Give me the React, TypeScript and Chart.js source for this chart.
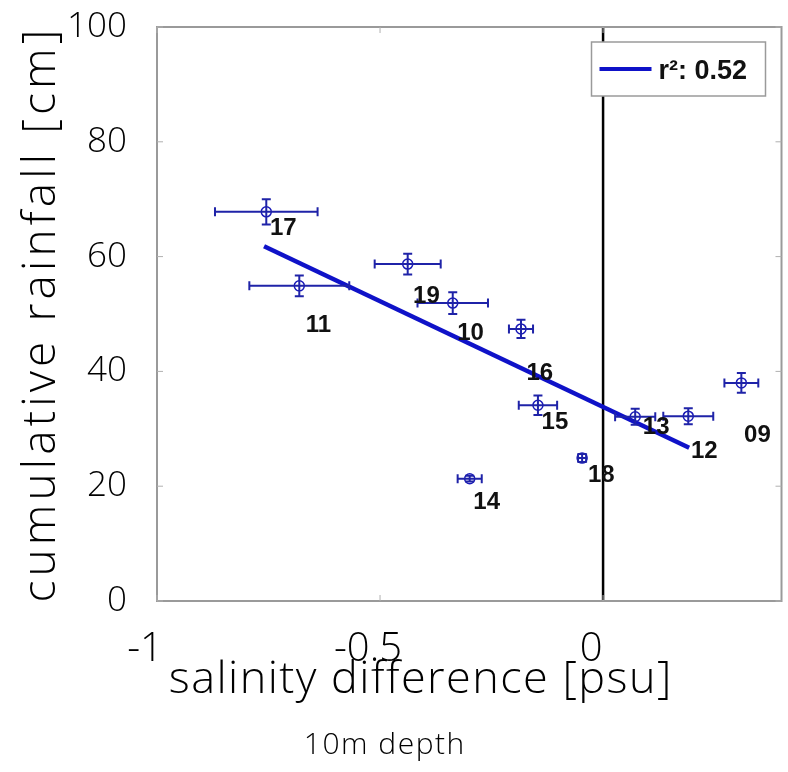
import React, { useEffect, useRef } from 'react';
import { Chart, registerables } from 'chart.js';

Chart.register(...registerables);

// ---------- data ----------
const stations = ['17', '11', '19', '10', '16', '15', '18', '14', '13', '12', '09'];
const salinityDiff = [-0.755, -0.681, -0.438, -0.337, -0.184, -0.146, -0.047, -0.299, 0.072, 0.191, 0.31];
const rainfall = [67.8, 54.9, 58.7, 51.9, 47.4, 34.1, 24.9, 21.3, 32.1, 32.2, 38.0];
const salinityErr = [0.115, 0.112, 0.074, 0.079, 0.027, 0.043, 0.009, 0.027, 0.045, 0.056, 0.038];
const rainfallErr = [2.2, 1.8, 1.8, 1.9, 1.6, 1.7, 0.7, 0.5, 1.4, 1.4, 1.7];
// station label anchors (data units)
const labelX = [-0.717, -0.638, -0.396, -0.297, -0.142, -0.108, -0.004, -0.261, 0.119, 0.227, 0.346];
const labelY = [65.0, 48.1, 53.1, 46.7, 39.7, 31.2, 21.8, 17.2, 30.3, 26.0, 28.9];
// regression line end points
const fitX = [-0.76, 0.193];
const fitY = [61.8, 26.7];
const fitLabel = 'r\u00B2: 0.52';
// vertical reference line at zero
const zeroX = [0, 0];
const zeroY = [0, 100];
// axes
const xTicks = [-1, -0.5, 0];
const yTicks = [0, 20, 40, 60, 80, 100];
const xMin = -1;
const xMax = 0.4;
const yMin = 0;
const yMax = 100;
const xTitle = 'salinity difference [psu]';
const xSubTitle = '10m depth';
const yTitle = 'cumulative rainfall [cm]';

// ---------- styles ----------
const LIGHT = '"Open Sans", Lato, "DejaVu Sans", sans-serif';
const BOLD = '"Liberation Sans", Arial, Helvetica, sans-serif';
const ERR_COLOR = '#1f23a8';
const FIT_COLOR = '#0f12c8';
const FRAME_COLOR = '#9a9a9a';

// draw text centred at (cx, cy) with a given font size, spread to a target width
function spreadText(ctx: any, text: string, cx: number, cy: number, width: number, size: number) {
  ctx.font = `300 ${size}px ${LIGHT}`;
  ctx.letterSpacing = '0px';
  const w = ctx.measureText(text).width;
  let sp = (width - w) / text.length;
  if (sp < 0) sp = 0;
  ctx.letterSpacing = `${sp}px`;
  ctx.textAlign = 'center';
  ctx.textBaseline = 'middle';
  ctx.fillText(text, cx + sp / 2, cy);
  ctx.letterSpacing = '0px';
}

const decorPlugin = {
  id: 'decor',
  afterDatasetsDraw(chart: any) {
    const { ctx, chartArea: a, scales } = chart;
    const x = scales.x;
    const y = scales.y;
    ctx.save();

    // error bars
    ctx.strokeStyle = ERR_COLOR;
    ctx.lineWidth = 2;
    const cap = 4.5;
    for (let i = 0; i < stations.length; i++) {
      const px = x.getPixelForValue(salinityDiff[i]);
      const py = y.getPixelForValue(rainfall[i]);
      const x0 = x.getPixelForValue(salinityDiff[i] - salinityErr[i]);
      const x1 = x.getPixelForValue(salinityDiff[i] + salinityErr[i]);
      const y0 = y.getPixelForValue(rainfall[i] - rainfallErr[i]);
      const y1 = y.getPixelForValue(rainfall[i] + rainfallErr[i]);
      ctx.beginPath();
      ctx.moveTo(x0, py); ctx.lineTo(x1, py);
      ctx.moveTo(x0, py - cap); ctx.lineTo(x0, py + cap);
      ctx.moveTo(x1, py - cap); ctx.lineTo(x1, py + cap);
      ctx.moveTo(px, y0); ctx.lineTo(px, y1);
      ctx.moveTo(px - cap, y0); ctx.lineTo(px + cap, y0);
      ctx.moveTo(px - cap, y1); ctx.lineTo(px + cap, y1);
      ctx.stroke();
    }

    // station labels
    ctx.fillStyle = '#111111';
    ctx.font = `bold 24px ${BOLD}`;
    ctx.textAlign = 'center';
    ctx.textBaseline = 'middle';
    for (let i = 0; i < stations.length; i++) {
      ctx.fillText(stations[i], x.getPixelForValue(labelX[i]), y.getPixelForValue(labelY[i]));
    }

    // frame
    ctx.strokeStyle = FRAME_COLOR;
    ctx.lineWidth = 2;
    ctx.strokeRect(a.left, a.top, a.right - a.left, a.bottom - a.top);

    // inward tick marks
    ctx.lineWidth = 1;
    ctx.strokeStyle = '#b0b0b0';
    ctx.beginPath();
    for (const v of xTicks) {
      const p = x.getPixelForValue(v);
      ctx.moveTo(p, a.bottom); ctx.lineTo(p, a.bottom - 6);
      ctx.moveTo(p, a.top); ctx.lineTo(p, a.top + 6);
    }
    for (const v of yTicks) {
      const p = y.getPixelForValue(v);
      ctx.moveTo(a.left, p); ctx.lineTo(a.left + 6, p);
      ctx.moveTo(a.right, p); ctx.lineTo(a.right - 6, p);
    }
    ctx.stroke();

    // legend
    const ds = chart.data.datasets[1];
    const bw = 174, bh = 54;
    const bx = a.right - 16 - bw;
    const by = a.top + 15;
    ctx.fillStyle = '#ffffff';
    ctx.fillRect(bx, by, bw, bh);
    ctx.strokeStyle = FRAME_COLOR;
    ctx.lineWidth = 1.5;
    ctx.strokeRect(bx, by, bw, bh);
    ctx.strokeStyle = ds.borderColor;
    ctx.lineWidth = 4;
    ctx.beginPath();
    ctx.moveTo(bx + 8, by + 27); ctx.lineTo(bx + 60, by + 27);
    ctx.stroke();
    ctx.fillStyle = '#111111';
    ctx.font = `bold 27px ${BOLD}`;
    ctx.textAlign = 'left';
    ctx.textBaseline = 'middle';
    ctx.fillText(ds.label, bx + 67, by + 30);

    ctx.restore();
  },
  afterDraw(chart: any) {
    const { ctx } = chart;
    ctx.save();
    ctx.fillStyle = '#000000';
    spreadText(ctx, xTitle, 420, 680, 504, 45);
    spreadText(ctx, xSubTitle, 384, 745, 162, 30);
    ctx.translate(42, 316);
    ctx.rotate(-Math.PI / 2);
    spreadText(ctx, yTitle, 0, 0, 577, 46);
    ctx.restore();
  },
};

export default function App() {
  const ref = useRef<HTMLCanvasElement | null>(null);

  useEffect(() => {
    if (!ref.current) return;
    const chart = new Chart(ref.current, {
      type: 'scatter',
      data: {
        datasets: [
          {
            label: 'stations',
            data: salinityDiff.map((v, i) => ({ x: v, y: rainfall[i] })),
            pointStyle: 'circle',
            pointRadius: 5,
            pointBorderWidth: 1.5,
            pointBorderColor: '#1a1ab8',
            pointBackgroundColor: 'rgba(0,0,0,0)',
            showLine: false,
            order: 0,
          },
          {
            type: 'line',
            label: fitLabel,
            data: fitX.map((v, i) => ({ x: v, y: fitY[i] })),
            borderColor: FIT_COLOR,
            borderWidth: 4.5,
            pointRadius: 0,
            fill: false,
            order: 1,
          },
          {
            type: 'line',
            label: 'zero',
            data: zeroX.map((v, i) => ({ x: v, y: zeroY[i] })),
            borderColor: '#000000',
            borderWidth: 2.5,
            pointRadius: 0,
            fill: false,
            order: 2,
          },
        ] as any,
      },
      options: {
        animation: false,
        responsive: true,
        maintainAspectRatio: false,
        layout: { padding: { top: 27, right: 6, left: 0, bottom: 0 } },
        plugins: {
          legend: { display: false },
          tooltip: { enabled: false },
        },
        scales: {
          x: {
            type: 'linear',
            min: xMin,
            max: xMax,
            grid: { display: false },
            border: { display: false },
            afterBuildTicks: (s: any) => { s.ticks = xTicks.map((v) => ({ value: v })); },
            afterFit: (s: any) => { s.height = 171; s.paddingLeft = 0; s.paddingRight = 0; },
            ticks: {
              color: '#000000',
              font: { family: LIGHT, size: 40, weight: '300' as any },
              padding: 17,
              labelOffset: -12,
              maxRotation: 0,
              callback: (v: any) => String(v),
            },
          },
          y: {
            type: 'linear',
            min: yMin,
            max: yMax,
            grid: { display: false },
            border: { display: false },
            afterBuildTicks: (s: any) => { s.ticks = yTicks.map((v) => ({ value: v })); },
            afterFit: (s: any) => { s.width = 157; s.paddingTop = 0; s.paddingBottom = 0; },
            ticks: {
              color: '#000000',
              font: { family: LIGHT, size: 35, weight: '300' as any },
              padding: 22,
              callback: (v: any) => String(v),
            },
          },
        },
      },
      plugins: [decorPlugin],
    });
    return () => chart.destroy();
  }, []);

  return (
    <div style={{ position: 'absolute', left: 0, top: 0, width: 788, height: 772, background: '#ffffff' }}>
      <canvas ref={ref} />
    </div>
  );
}
